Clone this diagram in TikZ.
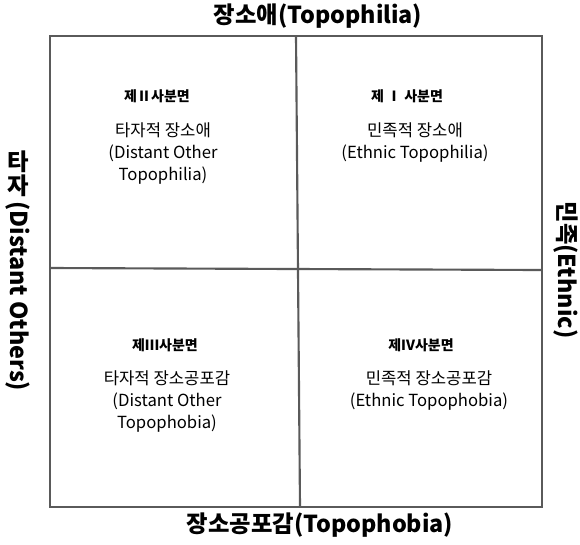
\documentclass[tikz,border=0pt]{standalone}
\usepackage{fontspec}
\setmainfont{Noto Sans CJK KR}
\usepackage{tikz}
\usetikzlibrary{positioning}
\definecolor{frameline}{HTML}{5A5A5A}
\tikzset{
  axistitle/.style={font=\fontsize{17.5}{20}\selectfont\bfseries,inner sep=0pt},
  quadhead/.style={font=\fontsize{10.5}{12}\selectfont\bfseries,inner sep=0pt},
  quadbody/.style={font=\fontsize{12.5}{16.5}\selectfont,align=center,inner sep=0pt},
  divider/.style={draw=frameline,line width=1.6pt}
}
\begin{document}
\begin{tikzpicture}[x=0.75pt,y=-0.75pt]
  \useasboundingbox (0,0) rectangle (580,544);
  % frame and quadrant lines
  \coordinate (nw) at (50,36);
  \coordinate (se) at (542,507);
  \coordinate (vtop) at (296,36);
  \coordinate (vbot) at (300,507);
  \coordinate (hleft) at (50,268);
  \coordinate (hright) at (542,270);
  \draw[divider] (nw) rectangle (se);
  \draw[divider] (vtop) -- (vbot);
  \draw[divider] (hleft) -- (hright);
  % axis titles
  \node[axistitle] (top) at (318,16) {장소애(Topophilia)};
  \node[axistitle] (bottom) at (320,525) {장소공포감(Topophobia)};
  \node[axistitle] (ta) at (18,162) {타};
  \node[axistitle,below=1pt of ta] (ja) {자};
  \node[axistitle,rotate=-90,anchor=west] (others) at ([yshift=-3pt]ja.south) {(Distant Others)};
  \node[axistitle,rotate=-90] (ethnic) at (566,270) {민족(Ethnic)};
  % quadrants
  \node[quadhead] (q2head) at (157,96) {제Ⅱ사분면};
  \node[quadbody,anchor=north] (q2body) at (163,122) {타자적 장소애\\(Distant Other\\Topophilia)};
  \node[quadhead] (q1head) at (407,96) {제 Ⅰ 사분면};
  \node[quadbody,anchor=north] (q1body) at (415,122) {민족적 장소애\\(Ethnic Topophilia)};
  \node[quadhead] (q3head) at (165,345) {제Ⅲ사분면};
  \node[quadbody,anchor=north] (q3body) at (167,370) {타자적 장소공포감\\(Distant Other\\Topophobia)};
  \node[quadhead] (q4head) at (421,345) {제IV사분면};
  \node[quadbody,anchor=north] (q4body) at (429,370) {민족적 장소공포감\\(Ethnic Topophobia)};
\end{tikzpicture}
\end{document}
